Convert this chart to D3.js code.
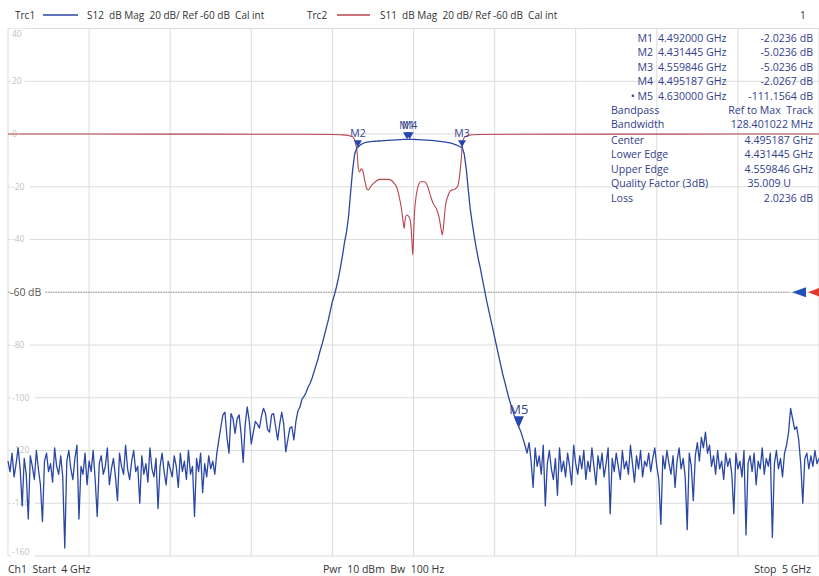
<!DOCTYPE html>
<html>
<head>
<meta charset="utf-8">
<script src="https://cdn.jsdelivr.net/npm/d3@7"></script>
<style>
  body { margin: 0; background: #fff; }
  text { font-family: "Open Sans", sans-serif; white-space: pre; }
</style>
</head>
<body>
<div id="chart"></div>
<script>
// sweep: 401 points, 4 GHz .. 5 GHz
const fStart = 4, fStop = 5, sweepPoints = 401;
const freqTicks = [4.0, 4.1, 4.2, 4.3, 4.4, 4.5, 4.6, 4.7, 4.8, 4.9, 5.0];
const dbTicks = [40, 20, 0, -20, -40, -60, -80, -100, -120, -140, -160];
const refLevel = -60;

// S12 (Trc1), in sweep order
const s12StopLow = [
  -124,-128,-121,-130,-125,-119,-127,-141,-123,-129,-146,-122,-126,-131,-120,-127,-133,-147,-124,-121,
  -128,-125,-132,-119,-126,-129,-122,-130,-157,-124,-120,-127,-131,-123,-118,-146,-126,-129,-121,-133,
  -124,-128,-120,-131,-145,-125,-122,-129,-126,-119,-133,-127,-123,-130,-139,-121,-126,-129,-118,-127,
  -131,-124,-120,-128,-126,-140,-122,-129,-125,-132,-119,-127,-130,-123,-142,-126,-121,-128,-133,-124,
  -127,-130,-122,-126,-134,-121,-128,-124,-131,-120,-129,-126,-145,-123,-128,-121,-136,-125,-130,-122,
  -127,-124,-129,-121
];
const s12Ripple = [
  -116,-111,-106.5,-105.5,-115,-121,-106,-108,-113.5,-108,-106.5,-114,-124.5,-110,-103.5,-109,-117.5,-113,-109,-110,
  -111.5,-107,-104,-106,-112,-113,-106.5,-106,-111,-116,-110,-105.5,-110,-120.5,-116,-111.5,-111,-116,-109,-105
];
const s12SkirtLow = [
  -103.4,-100.5,-99.5,-98,-96,-94.5,-92.5,-90,-87.5,-85,-82,-79.5,-76.5,-73.5,-70.5,-67,-63.5,-61,-58,-54.5,
  -50.5,-46,-41,-37,-31,-22,-13.5,-7.5,-5.4
];
const s12Passband = [
  -4.7,-4.0,-3.6,-3.3,-3.1,-3.0,-2.9,-2.8,-2.75,-2.7,-2.65,-2.6,-2.55,-2.5,-2.45,-2.4,-2.35,-2.3,-2.25,-2.2,
  -2.15,-2.1,-2.07,-2.04,-2.03,-2.02,-2.03,-2.05,-2.08,-2.12,-2.16,-2.2,-2.25,-2.3,-2.35,-2.4,-2.45,-2.5,-2.6,-2.7,
  -2.8,-2.9,-3.0,-3.1,-3.25,-3.4,-3.6,-3.85,-4.15,-4.45,-4.85,-5.1
];
const s12SkirtHigh = [
  -7.5,-13,-21,-28.5,-34,-39,-43.5,-47.5,-51,-55,-59,-63,-66.5,-70,-73.5,-77,-80.5,-84,-87.5,-91,
  -94,-97,-100,-102.5,-105,-107.5,-109.5,-111.2,-113,-115.5,-118
];
const s12StopHigh = [
  -121,-117,-124,-134,-119,-126,-122,-129,-118,-141,-125,-120,-127,-131,-123,-137,-119,-128,-124,-130,
  -121,-126,-133,-118,-125,-129,-122,-127,-120,-131,-124,-128,-119,-126,-133,-122,-127,-121,-130,-125,
  -119,-144,-123,-128,-121,-126,-131,-120,-127,-124,-129,-118,-125,-132,-122,-127,-120,-130,-124,-126,
  -121,-128,-123,-119,-126,-131,-148,-122,-127,-120,-125,-129,-122,-134,-124,-119,-127,-123,-130,-150,
  -121,-126,-139,-122,-117,-124,-115,-119,-113,-121,-118,-126,-122,-129,-120,-127,-124,-131,-121,-126,
  -123,-129,-144,-121,-127,-124,-130,-120,-152,-125,-122,-128,-121,-133,-124,-127,-119,-129,-123,-126,
  -121,-153,-125,-120,-127,-123,-130,-121,-118,-113,-104,-108,-112,-111,-116,-125,-140,-123,-121,-127,
  -122,-126,-120,-125,-123
];

// S11 (Trc2): frequency (GHz) and dB
const s11Freq = [
  4.000, 4.200, 4.350, 4.400, 4.410, 4.420, 4.425, 4.4285, 4.4305, 4.4318, 4.4335, 4.4355, 4.437, 4.4395,
  4.4425, 4.4445, 4.4475, 4.451, 4.4585, 4.469, 4.4765, 4.479, 4.4835, 4.4855, 4.4875, 4.4885, 4.4895,
  4.4915, 4.4945, 4.4965, 4.498, 4.499, 4.500, 4.501, 4.5025, 4.506, 4.509, 4.514, 4.517, 4.5215, 4.5245,
  4.528, 4.5315, 4.534, 4.5355, 4.537, 4.5395, 4.5425, 4.546, 4.5505, 4.5545, 4.557, 4.559, 4.5605,
  4.563, 4.568, 4.580, 4.620, 4.800, 5.000
];
const s11Db = [
  0.0, -0.05, -0.1, -0.2, -0.3, -0.6, -1.1, -3.5, -7, -12.5, -14.4, -13.2, -13.5, -17,
  -20.8, -21.2, -19.8, -18.6, -17.2, -17.2, -18.8, -20, -25.5, -29, -34, -35.8, -33,
  -30.7, -31.4, -34, -40, -45.9, -40, -31, -25.5, -19.5, -18.1, -18.1, -19.5, -24, -26.5,
  -28.2, -31.5, -36, -38.3, -35, -27, -23.5, -21.4, -21, -19.8, -15.5, -9, -3.5,
  -1.2, -0.5, -0.2, -0.1, -0.05, 0.0
];

const markerNames = ["M1", "M2", "M3", "M4", "M5"];
const markerFreqs = [4.492000, 4.431445, 4.559846, 4.495187, 4.630000];
const markerDbs = [-2.0236, -5.0236, -5.0236, -2.0267, -111.1564];
const activeMarker = "M5";

const bandLabels = ["Bandpass", "Bandwidth", "Center", "Lower Edge", "Upper Edge", "Quality Factor (3dB)", "Loss"];
const bandValues = ["Ref to Max  Track", "128.401022 MHz", "4.495187 GHz", "4.431445 GHz", "4.559846 GHz", "35.009 U", "2.0236 dB"];

const width = 819, height = 576;
const blue = "#2a47a4", red = "#b8454d", navy = "#32408c";

const svg = d3.select("#chart").append("svg")
  .attr("width", width).attr("height", height)
  .attr("viewBox", [0, 0, width, height]);

const x = d3.scaleLinear().domain([fStart, fStop]).range([8, 819]);
const y = d3.scaleLinear().domain([-160, 40]).range([556, 28.5]);

// grid
svg.append("g").selectAll("line").data(freqTicks).join("line")
  .attr("x1", d => x(d)).attr("x2", d => x(d))
  .attr("y1", y(40)).attr("y2", y(-160))
  .attr("stroke", "#dcdcdc").attr("stroke-width", 1);
svg.append("g").selectAll("line").data(dbTicks).join("line")
  .attr("x1", x(fStart)).attr("x2", width)
  .attr("y1", d => y(d)).attr("y2", d => y(d))
  .attr("stroke", "#dcdcdc").attr("stroke-width", 1);

// reference line
svg.append("line")
  .attr("x1", x(fStart)).attr("x2", 790)
  .attr("y1", y(refLevel)).attr("y2", y(refLevel))
  .attr("stroke", "#9a9a9a").attr("stroke-dasharray", "1.5,1");

// y labels
const ylab = svg.append("g").selectAll("g").data(dbTicks).join("g")
  .attr("transform", d => {
    let yy = y(d);
    if (d === 40) yy += 6;
    if (d === -160) yy -= 4;
    return `translate(12,${yy})`;
  });
ylab.append("rect")
  .attr("x", -1).attr("y", -6)
  .attr("width", d => d === refLevel ? 34 : (String(d).length * 5.2 + 3))
  .attr("height", 11).attr("fill", "#fff");
ylab.append("text")
  .attr("dy", "0.35em")
  .attr("font-size", d => d === refLevel ? 10.5 : 8.5)
  .attr("fill", d => d === refLevel ? "#555" : "#c2c2c2")
  .attr("x", d => d === refLevel ? -2 : 0)
  .text(d => d === refLevel ? `${d} dB` : d);

// traces
const sweep = d3.range(sweepPoints).map(i => fStart + i * (fStop - fStart) / (sweepPoints - 1));
const s12 = [].concat(s12StopLow, s12Ripple, s12SkirtLow, s12Passband, s12SkirtHigh, s12StopHigh);
const s12Data = sweep.map((f, i) => [f, s12[i]]);
const s11Data = s11Freq.map((f, i) => [f, s11Db[i]]);

svg.append("path").datum(s11Data)
  .attr("d", d3.line().x(d => x(d[0])).y(d => y(d[1])).curve(d3.curveMonotoneX))
  .attr("fill", "none").attr("stroke", red).attr("stroke-width", 1.1);

svg.append("path").datum(s12Data)
  .attr("d", d3.line().x(d => x(d[0])).y(d => y(d[1])))
  .attr("fill", "none").attr("stroke", blue).attr("stroke-width", 1.3)
  .attr("stroke-linejoin", "round");

// markers on the trace
const markers = markerNames.map((n, i) => ({ name: n, f: markerFreqs[i], db: markerDbs[i] }));
const mg = svg.append("g").selectAll("g").data(markers).join("g")
  .attr("transform", d => `translate(${x(d.f)},${y(d.db)})`);
mg.append("path")
  .attr("d", d => d.name === activeMarker ? "M0,0L-5,-11L5,-11Z" : "M0,0L-4,-7L4,-7Z")
  .attr("fill", "#2446b0");
mg.append("text")
  .attr("text-anchor", "middle")
  .attr("y", d => d.name === activeMarker ? -13 : -10)
  .attr("font-size", d => d.name === activeMarker ? 13 : 10.5)
  .attr("fill", navy)
  .text(d => d.name);

// reference arrows
svg.append("path")
  .attr("d", `M792,${y(refLevel)}L806,${y(refLevel) - 5}L806,${y(refLevel) + 5}Z`)
  .attr("fill", "#2050b8");
svg.append("path")
  .attr("d", `M808,${y(refLevel)}L821,${y(refLevel) - 5}L821,${y(refLevel) + 5}Z`)
  .attr("fill", "#e03a2c");

// marker table
const table = svg.append("g").attr("font-size", 10.6).attr("fill", navy);
const mRowY = [41.5, 56, 70.5, 85, 99.5];
markers.forEach((m, i) => {
  table.append("text").attr("x", 653).attr("y", mRowY[i]).attr("text-anchor", "end")
    .text((m.name === activeMarker ? "\u2022 " : "") + m.name);
  table.append("text").attr("x", 658).attr("y", mRowY[i]).text(m.f.toFixed(6) + " GHz");
  table.append("text").attr("x", 813).attr("y", mRowY[i]).attr("text-anchor", "end")
    .text(m.db.toFixed(4) + " dB");
});
const bRowY = [113.5, 128, 144, 158, 172.5, 187, 201.5];
bandLabels.forEach((l, i) => {
  table.append("text").attr("x", 611).attr("y", bRowY[i]).text(l);
  table.append("text").attr("x", l.startsWith("Quality") ? 791 : 813).attr("y", bRowY[i])
    .attr("text-anchor", "end").text(bandValues[i]);
});

// header
const head = svg.append("g").attr("font-size", 10).attr("fill", "#333");
head.append("text").attr("x", 15).attr("y", 19).text("Trc1");
head.append("line").attr("x1", 43).attr("x2", 78).attr("y1", 15).attr("y2", 15)
  .attr("stroke", blue).attr("stroke-width", 1.5);
head.append("text").attr("x", 87).attr("y", 19).text("S12  dB Mag  20 dB/ Ref -60 dB  Cal int");
head.append("text").attr("x", 307).attr("y", 19).text("Trc2");
head.append("line").attr("x1", 337).attr("x2", 370).attr("y1", 15).attr("y2", 15)
  .attr("stroke", red).attr("stroke-width", 1.5);
head.append("text").attr("x", 380).attr("y", 19).text("S11  dB Mag  20 dB/ Ref -60 dB  Cal int");
head.append("text").attr("x", 800).attr("y", 19).text("1");

// footer
const foot = svg.append("g").attr("font-size", 10.5).attr("fill", "#333");
foot.append("text").attr("x", 8).attr("y", 573).text("Ch1  Start  4 GHz");
foot.append("text").attr("x", 323).attr("y", 573).text("Pwr  10 dBm  Bw  100 Hz");
foot.append("text").attr("x", 811).attr("y", 573).attr("text-anchor", "end").text("Stop  5 GHz");
</script>
</body>
</html>
